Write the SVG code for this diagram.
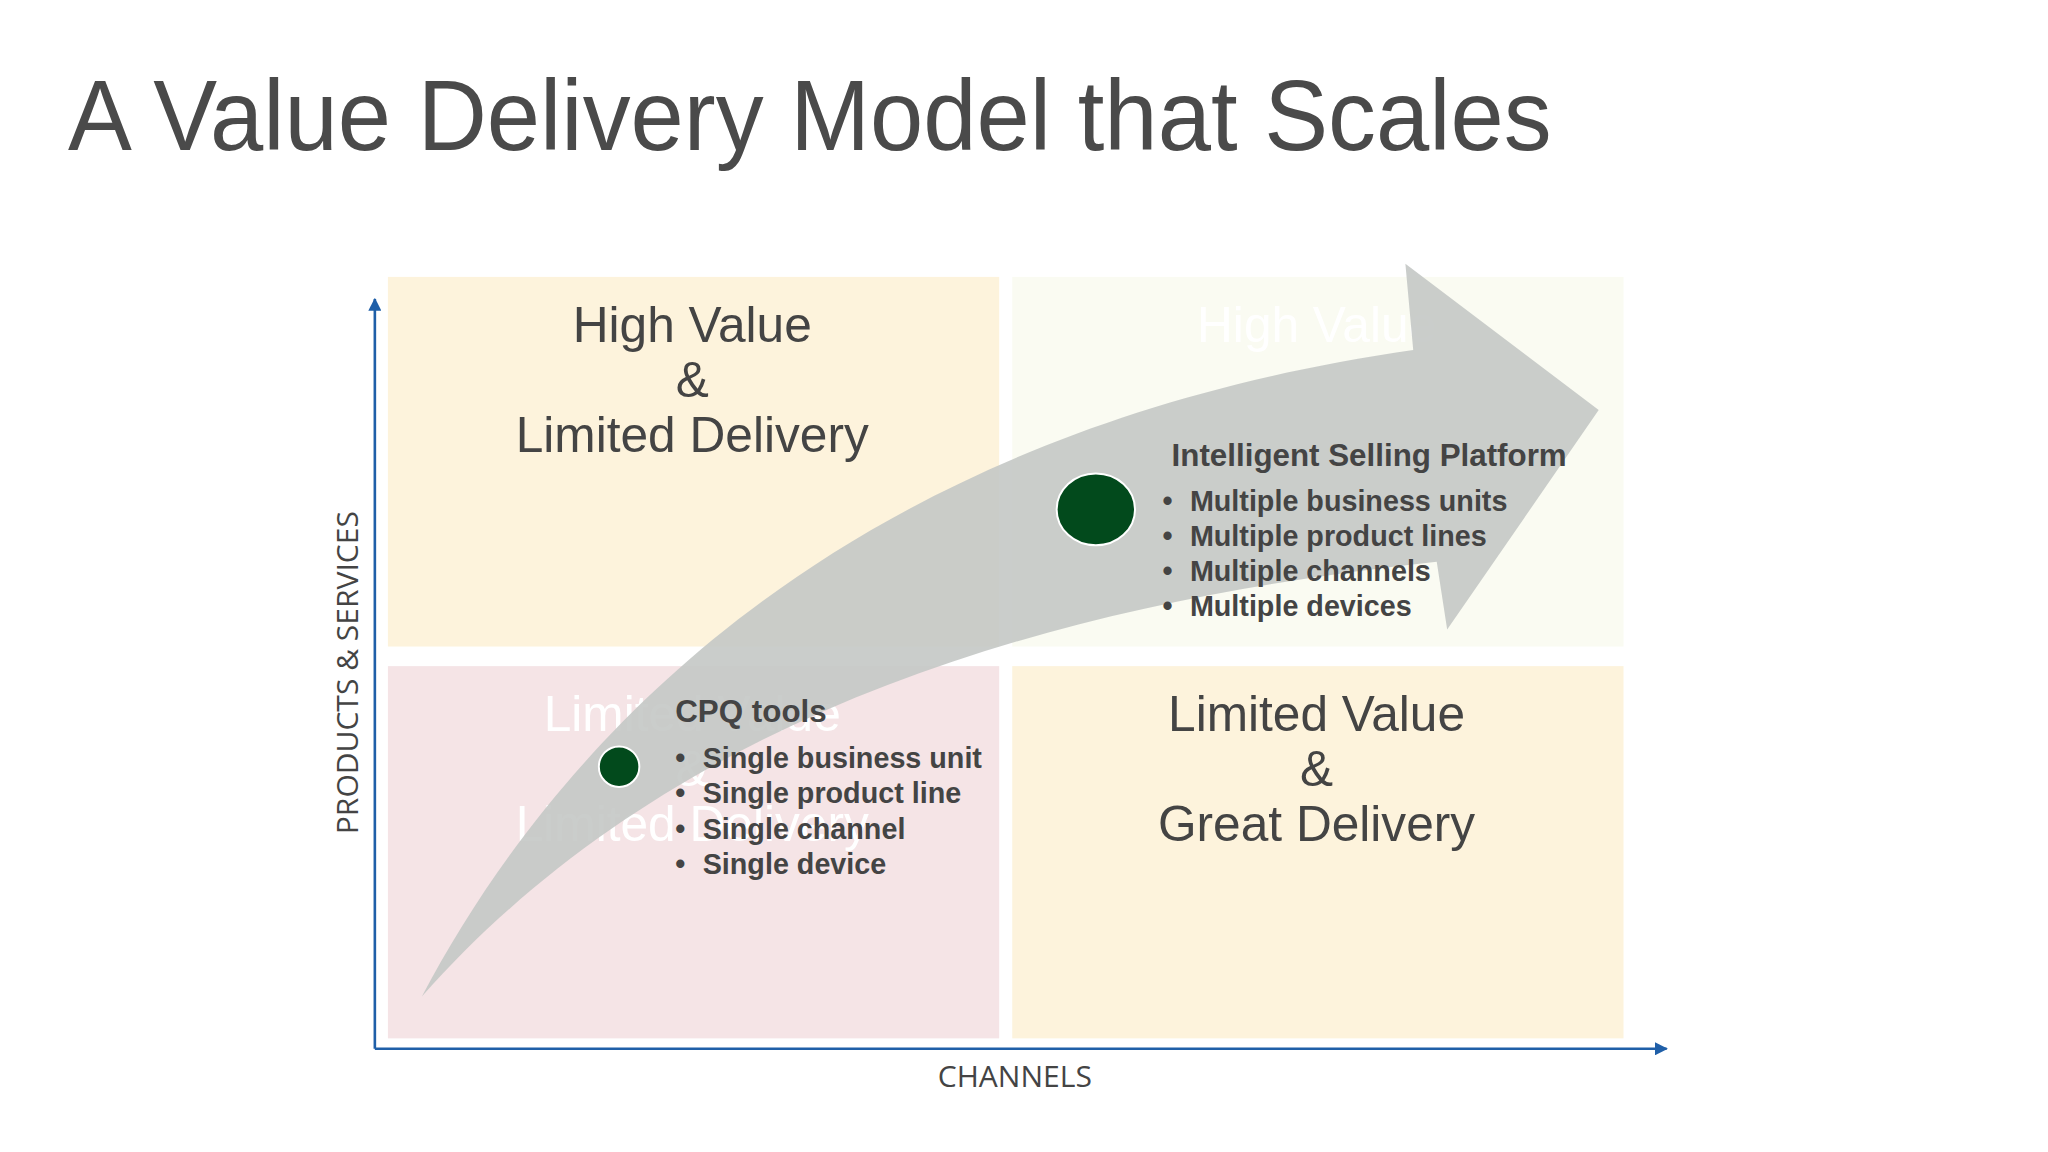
<svg xmlns="http://www.w3.org/2000/svg" width="2048" height="1152" viewBox="0 0 2048 1152">
<style>
.q{font-family:"Liberation Sans",Arial,sans-serif;font-size:38px;text-anchor:middle;fill:#444}
.g{font-family:"Liberation Sans",Arial,sans-serif;font-size:38px;text-anchor:middle;fill:#fff}
.b{font-family:"Liberation Sans",Arial,sans-serif;font-size:22px;font-weight:bold;fill:#444}
.h{font-family:"Liberation Sans",Arial,sans-serif;font-size:24px;font-weight:bold;fill:#444}
.ax{font-family:"Open Sans","DejaVu Sans",sans-serif;font-size:23px;fill:#444;text-anchor:middle}
</style>
<defs>
<marker id="ah" viewBox="0 0 10 10" refX="9" refY="5" markerWidth="5" markerHeight="5" orient="auto"><path d="M0,0 L10,5 L0,10 Z" fill="#1f5fa8"/></marker>
</defs>
<rect width="2048" height="1152" fill="#fff"/>
<g transform="scale(1.30612)">
<text x="52" y="115" font-family="Liberation Sans,Arial,sans-serif" font-size="76" fill="#4a4a4a" textLength="1136" lengthAdjust="spacingAndGlyphs">A Value Delivery Model that Scales</text>
<g id="q-tl"><rect x="297" y="212" width="468" height="283" fill="#fdf3dc"/>
<text class="q" x="530" y="262">High Value</text><text class="q" x="530" y="304">&amp;</text><text class="q" x="530" y="346">Limited Delivery</text></g>
<g id="q-tr"><rect x="775" y="212" width="468" height="283" fill="#fafbf2"/>
<text class="g" x="1008" y="262">High Value</text></g>
<g id="q-bl"><rect x="297" y="510" width="468" height="285" fill="#f5e4e6"/>
<text class="g" x="530" y="560">Limited Value</text><text class="g" x="530" y="602">&amp;</text><text class="g" x="530" y="644">Limited Delivery</text></g>
<g id="q-br"><rect x="775" y="510" width="468" height="285" fill="#fdf3dc"/>
<text class="q" x="1008" y="560">Limited Value</text><text class="q" x="1008" y="602">&amp;</text><text class="q" x="1008" y="644">Great Delivery</text></g>
<g id="connectors">
<line x1="287" y1="803" x2="287" y2="229" stroke="#1f5fa8" stroke-width="2" marker-end="url(#ah)"/>
<line x1="287" y1="803" x2="1276" y2="803" stroke="#1f5fa8" stroke-width="2" marker-end="url(#ah)"/>
</g>
<text class="ax" transform="translate(274,515) rotate(-90)">PRODUCTS &amp; SERVICES</text>
<text class="ax" x="777" y="832">CHANNELS</text>
<g id="arrow"><path d="M323,763 C430,560 650,330 1082,268 L1076,202 L1224,314 L1108,482 L1100,430 C820,460 520,540 323,763 Z" fill="#c4c8c5" fill-opacity="0.9"/></g>
<g id="cpq">
<circle cx="474" cy="587" r="15.5" fill="#024a1c" stroke="#fff" stroke-width="1.5"/>
<text class="h" x="517" y="553">CPQ tools</text>
<g class="b"><text x="517" y="588">•</text><text x="538" y="588">Single business unit</text>
<text x="517" y="615">•</text><text x="538" y="615">Single product line</text>
<text x="517" y="642">•</text><text x="538" y="642">Single channel</text>
<text x="517" y="669">•</text><text x="538" y="669">Single device</text></g>
</g>
<g id="isp">
<ellipse cx="839" cy="390" rx="30" ry="27.5" fill="#024a1c" stroke="#fff" stroke-width="1.5"/>
<text class="h" x="897" y="357">Intelligent Selling Platform</text>
<g class="b"><text x="890" y="391">•</text><text x="911" y="391">Multiple business units</text>
<text x="890" y="418">•</text><text x="911" y="418">Multiple product lines</text>
<text x="890" y="445">•</text><text x="911" y="445">Multiple channels</text>
<text x="890" y="472">•</text><text x="911" y="472">Multiple devices</text></g>
</g>
</g>
</svg>
